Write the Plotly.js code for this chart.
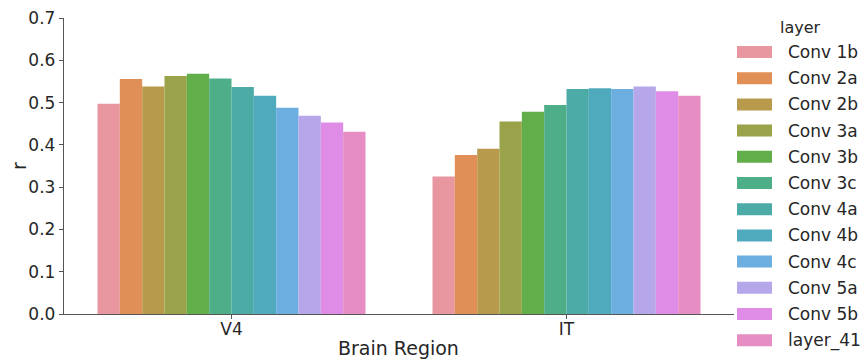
<!DOCTYPE html>
<html>
<head>
<meta charset="utf-8">
<script src="https://cdn.plot.ly/plotly-3.0.1.min.js"></script>
<style>html,body{margin:0;padding:0;background:#fff;}#chart{width:865px;height:362px;}</style>
</head>
<body>
<div id="chart"></div>
<script>
const regions = ["V4", "IT"];
const layers = ["Conv 1b", "Conv 2a", "Conv 2b", "Conv 3a", "Conv 3b", "Conv 3c", "Conv 4a", "Conv 4b", "Conv 4c", "Conv 5a", "Conv 5b", "layer_41"];
const v4Values = [0.497, 0.556, 0.538, 0.563, 0.568, 0.557, 0.537, 0.516, 0.488, 0.469, 0.453, 0.431];
const itValues = [0.325, 0.376, 0.391, 0.455, 0.478, 0.494, 0.532, 0.534, 0.532, 0.538, 0.527, 0.516];
const colors = ["#e8969f", "#e08f56", "#b89a4d", "#9aa349", "#62ae4a", "#4dae88", "#4caaa7", "#50aabe", "#6daee0", "#b6a7ea", "#de8ce6", "#e68ec4"];
const yTicks = [0, 0.1, 0.2, 0.3, 0.4, 0.5, 0.6, 0.7];

const font = "DejaVu Sans, sans-serif";
const textColor = "#262626";
const L = 64, T = 18, W = 670, H = 296;
const px = x => (x - L) / W;
const py = y => (T + H - y) / H;

const traces = layers.map((name, i) => ({
  type: "bar",
  name: name,
  x: regions,
  y: [v4Values[i], itValues[i]],
  marker: {color: colors[i], line: {width: 0}},
  showlegend: false,
  hoverinfo: "x+y+name"
}));

const shapes = [];
const annotations = [];
// legend (manual, to mimic seaborn patches)
annotations.push({xref: "paper", yref: "paper", x: px(778), y: py(28), xanchor: "left", yanchor: "middle",
  text: "layer", showarrow: false, font: {family: font, size: 16, color: textColor}});
const legX0 = 737, legX1 = 772, rowTop = 52, rowStep = 26.2;
layers.forEach((name, i) => {
  const cy = rowTop + i * rowStep;
  shapes.push({type: "rect", xref: "paper", yref: "paper",
    x0: px(legX0), x1: px(legX1), y0: py(cy - 6), y1: py(cy + 6),
    fillcolor: colors[i], line: {width: 0}});
  annotations.push({xref: "paper", yref: "paper", x: px(786), y: py(cy),
    xanchor: "left", yanchor: "middle", text: name, showarrow: false,
    font: {family: font, size: 17, color: textColor}});
});
// axis titles
annotations.push({xref: "paper", yref: "paper", x: px(398), y: py(348), xanchor: "center", yanchor: "middle",
  text: "Brain Region", showarrow: false, font: {family: font, size: 19, color: textColor}});
annotations.push({xref: "paper", yref: "paper", x: px(19), y: py(166), xanchor: "center", yanchor: "middle",
  text: "r", textangle: -90, showarrow: false, font: {family: font, size: 19, color: textColor}});

const layout = {
  width: 865, height: 362,
  margin: {l: L, r: 865 - L - W, t: T, b: 362 - T - H, pad: 0},
  paper_bgcolor: "#ffffff", plot_bgcolor: "#ffffff",
  barmode: "group", bargap: 0.2, bargroupgap: 0,
  font: {family: font, size: 16.5, color: textColor},
  xaxis: {
    range: [-0.5, 1.5], showgrid: false, zeroline: false,
    showline: true, linecolor: "#555555", linewidth: 1.2,
    ticks: "outside", ticklen: 4, tickcolor: "#555555", tickwidth: 1,
    ticklabelstandoff: -5,
    tickfont: {family: font, size: 17, color: textColor}
  },
  yaxis: {
    range: [0, 0.7], showgrid: false, zeroline: false,
    showline: true, linecolor: "#555555", linewidth: 1.2,
    ticks: "outside", ticklen: 4, tickcolor: "#555555", tickwidth: 1,
    tickvals: yTicks, tickformat: ".1f",
    tickfont: {family: font, size: 17, color: textColor}
  },
  shapes: shapes,
  annotations: annotations,
  showlegend: false
};

Plotly.newPlot("chart", traces, layout, {displayModeBar: false, staticPlot: true});
</script>
</body>
</html>
